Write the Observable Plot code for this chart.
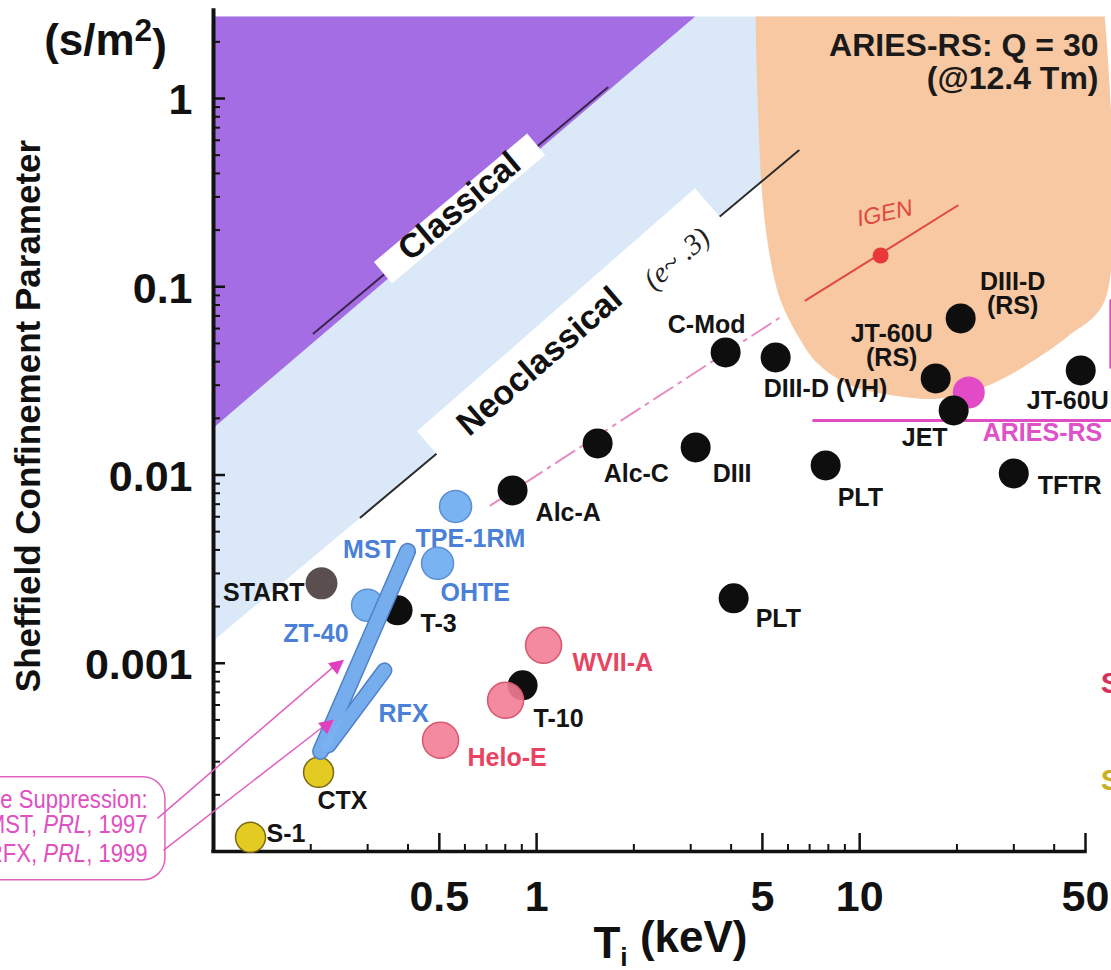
<!DOCTYPE html>
<html><head><meta charset="utf-8">
<script src="https://cdn.jsdelivr.net/npm/d3@7"></script>
<script src="https://cdn.jsdelivr.net/npm/@observablehq/plot@0.6"></script>
<style>
html,body{margin:0;padding:0;background:#fff;overflow:hidden}
#chart svg{display:block}
</style></head><body><div id="chart"></div>
<script>
// ---------------- data (T_i in keV, Sheffield parameter in s/m^2) ----------------
const machines = ["S-1","CTX","START","T-3","ZT-40","OHTE","TPE-1RM","Alc-A","Alc-C","DIII","C-Mod","DIII-D (VH)","PLT","PLT","JT-60U\n(RS)","DIII-D\n(RS)","JET","JT-60U","TFTR","T-10","","WVII-A","Helo-E","ARIES-RS"];
const tiKeV    = [0.1302,0.2114,0.2159,0.3713,0.2998,0.4937,0.5613,0.8427,1.545,3.107,3.847,5.495,7.848,4.073,17.19,20.54,19.54,48.33,29.99,0.9051,0.8018,1.051,0.5044,21.76];
const sheffield= [1.189e-4,2.634e-4,2.657e-3,1.910e-3,2.030e-3,3.393e-3,6.810e-3,8.282e-3,0.01472,0.01401,0.04477,0.04211,0.01125,2.212e-3,0.03258,0.06787,0.02203,0.03593,0.01020,7.630e-4,6.353e-4,1.245e-3,3.897e-4,0.02746];
const family   = ["Spheromak","Spheromak","ST","Tokamak","RFP","RFP","RFP","Tokamak","Tokamak","Tokamak","Tokamak","Tokamak","Tokamak","Tokamak","Tokamak","Tokamak","Tokamak","Tokamak","Tokamak","Tokamak","Stellarator","Stellarator","Stellarator","Reactor"];

// RFP elongated ranges (MST and RFX)
const mstRangeT = [0.2144, 0.3987], mstRangeS = [3.404e-4, 3.929e-3];
const rfxRangeT = [0.2270, 0.3383], rfxRangeS = [3.66e-4, 9.17e-4];
const mstLabelAt = [0.304, 0.00402], rfxLabelAt = [0.3875, 5.35e-4];

// regimes
const classicalEdgeT = [0.1, 3.096], classicalEdgeS = [0.01785, 2.727];
const neoEdgeT = [0.1, 20.25], neoEdgeS = [0.00132, 2.727];
const plotTopS = 2.727;
const ariesRegionT = [4.764,4.833,5.009,5.303,5.694,6.567,7.413,9.379,13.40,17.81,25.44,34.57,44.05,57.36,57.36];
const ariesRegionS = [2.727,0.9759,0.2871,0.1379,0.08457,0.05187,0.03914,0.02990,0.02615,0.02551,0.03028,0.04061,0.05447,0.08457,2.727];
const classicalLineT = [0.2040, 1.659], classicalLineS = [0.05649, 1.144];
const neoLineT = [0.2851, 6.474], neoLineS = [0.005954, 0.5296];
const classicalBoxT = [0.3345, 0.9971], classicalBoxS = [0.1187, 0.5719];
const neoBoxT = [0.468, 3.396], neoBoxS = [0.0142, 0.2773];
const classicalTextAt = [0.5776, 0.2669], neoTextAt = [1.0216, 0.04012], eTextAt = [2.713, 0.1413];
const trendT = [0.7204, 5.613], trendS = [0.0069, 0.0679];
const igenLineT = [6.804, 20.12], igenLineS = [0.0846, 0.2702];
const igenPoint = [11.61, 0.1466], igenTextAt = [11.95, 0.245];
const ariesLineT = [7.203, 60.3], ariesLineS = 0.0195;
const ariesEdgeT = 59.8, ariesEdgeS = [0.0373, 0.0846];

// annotation box + arrows
const noteBoxT = [0.019, 0.0710], noteBoxS = [7.03e-5, 2.48e-4];
const noteLines = ["Mode Suppression:", "MST, PRL, 1997", "RFX, PRL, 1999"];
const noteT = 0.0625, noteS = [1.893e-4, 1.395e-4, 9.78e-5];
const arrowFromT = [0.0671, 0.07002], arrowFromS = [1.50e-4, 1.015e-4];
const arrowToT = [0.2420, 0.2254], arrowToS = [9.99e-4, 4.80e-4];
const legendWords = ["Stellarators", "Spheromaks"], legendT = 55.7, legendS = [7.82e-4, 2.39e-4];

// axes
const xTicksMajor = [0.5, 1, 5, 10, 50];
const xTickLabels = ["0.5", "1", "5", "10", "50"];
const xTicksMinor = [0.2,0.3,0.4,0.6,0.7,0.8,0.9,2,3,4,6,7,8,9,20,30,40];
const yTicksMajor = [1, 0.1, 0.01, 0.001];
const yTickLabels = ["1", "0.1", "0.01", "0.001"];
const yTicksMinor = [];
for (const d of [1e-4, 1e-3, 1e-2, 1e-1, 1]) for (let k = 2; k <= 9; k++) if (d * k <= plotTopS) yTicksMinor.push(d * k);

// ---------------- layout / styles ----------------
const FONT = "'Liberation Sans', Arial, Helvetica, sans-serif";
const W = 1111, H = 970, ML = 213, MR = 26, MT = 16, MB = 119;
const PW = W - ML - MR, PH = H - MT - MB;

const pts = machines.map((m, i) => ({name: m, T: tiKeV[i], S: sheffield[i], fam: family[i]}));
const famStyle = {
  Reactor:     {r: 16, fill: "#e24ac6", stroke: "none"},
  ST:          {r: 16, fill: "#5b4e4e", stroke: "none"},
  Spheromak:   {r: 15, fill: "#e4cb22", stroke: "#7a6a12", strokeWidth: 1.5},
  RFP:         {r: 16, fill: "#7ab3f1", stroke: "#5b8fd4", strokeWidth: 1.5},
  Tokamak:     {r: 15, fill: "#0e0e0e", stroke: "none"},
  Stellarator: {r: 18, fill: "#f27d95", stroke: "#d8566f", strokeWidth: 1.5, fillOpacity: 0.9}
};
const labelColor = {Reactor: "#e050c8", ST: "#141414", Spheromak: "#141414", RFP: "#4b80d8", Tokamak: "#141414", Stellarator: "#e84462"};
const labelLayout = [
  {i: 0, dx: 16, dy: -3, a: "start"}, {i: 1, dx: -1, dy: 29, a: "start"}, {i: 2, dx: -17, dy: 10, a: "end"},
  {i: 3, dx: 23, dy: 14, a: "start"}, {i: 4, dx: -19, dy: 29, a: "end"}, {i: 5, dx: 3, dy: 30, a: "start"},
  {i: 6, dx: -40, dy: 33, a: "start"}, {i: 7, dx: 23, dy: 23, a: "start"}, {i: 8, dx: 6, dy: 31, a: "start"},
  {i: 9, dx: 17, dy: 27, a: "start"}, {i: 10, dx: -19, dy: -27, a: "middle"}, {i: 11, dx: -12, dy: 32, a: "start"},
  {i: 12, dx: 12, dy: 33, a: "start"}, {i: 13, dx: 22, dy: 21, a: "start"}, {i: 14, dx: -44, dy: -32, a: "middle"},
  {i: 15, dx: 52, dy: -24, a: "middle"}, {i: 16, dx: -29, dy: 28, a: "middle"}, {i: 17, dx: 28, dy: 31, a: "end"},
  {i: 18, dx: 24, dy: 13, a: "start"}, {i: 19, dx: 11, dy: 34, a: "start"}, {i: 21, dx: 29, dy: 18, a: "start"},
  {i: 22, dx: 27, dy: 18, a: "start"}, {i: 23, dx: 14, dy: 41, a: "start"}
];

const seg = (T, S) => T.map((t, i) => ({T: t, S: Array.isArray(S) ? S[i] : S}));
const poly = (T, S) => T.map((t, i) => ({T: t, S: S[i]}));
const txt = {fontFamily: FONT, fontWeight: "bold"};

const marks = [
  // regimes
  Plot.line([{T: neoEdgeT[0], S: neoEdgeS[0]}, {T: neoEdgeT[1], S: neoEdgeS[1]}, {T: neoEdgeT[0], S: plotTopS}], {x: "T", y: "S", fill: "#dae8f8", stroke: "none"}),
  Plot.line([{T: classicalEdgeT[0], S: classicalEdgeS[0]}, {T: classicalEdgeT[1], S: classicalEdgeS[1]}, {T: classicalEdgeT[0], S: plotTopS}], {x: "T", y: "S", fill: "#a46de4", stroke: "none"}),
  Plot.line(poly(ariesRegionT, ariesRegionS), {x: "T", y: "S", fill: "#f8c8a2", stroke: "none", curve: "catmull-rom"}),
  Plot.line(seg(classicalLineT, classicalLineS), {x: "T", y: "S", stroke: "#3b2450", strokeWidth: 2}),
  Plot.line(seg(neoLineT, neoLineS), {x: "T", y: "S", stroke: "#2a2a2a", strokeWidth: 2}),
  Plot.line(seg(classicalBoxT, classicalBoxS), {x: "T", y: "S", stroke: "#fff", strokeWidth: 28, strokeLinecap: "butt"}),
  Plot.line(seg(neoBoxT, neoBoxS), {x: "T", y: "S", stroke: "#fff", strokeWidth: 40, strokeLinecap: "butt"}),
  Plot.text(["Classical"], {x: classicalTextAt[0], y: classicalTextAt[1], rotate: -40, fontSize: 34, fill: "#111", ...txt}),
  Plot.text(["Neoclassical"], {x: neoTextAt[0], y: neoTextAt[1], rotate: -41, fontSize: 34, fill: "#111", ...txt}),
  Plot.text(["(e~ .3)"], {x: eTextAt[0], y: eTextAt[1], rotate: -41, fontSize: 29, fill: "#222", fontFamily: "'Liberation Serif', serif", fontStyle: "italic"}),
  // trend + reactor annotations
  Plot.line(seg(trendT, trendS), {x: "T", y: "S", stroke: "#e68cc0", strokeWidth: 2, strokeDasharray: "22 7 3 7"}),
  Plot.line(seg(igenLineT, igenLineS), {x: "T", y: "S", stroke: "#e0483c", strokeWidth: 2}),
  Plot.dot([igenPoint], {x: d => d[0], y: d => d[1], r: 8, fill: "#e8383a"}),
  Plot.text(["IGEN"], {x: igenTextAt[0], y: igenTextAt[1], rotate: -12, fontSize: 23, fill: "#e0483c", fontFamily: "'Liberation Sans', sans-serif", fontStyle: "italic"}),
  Plot.line(seg(ariesLineT, ariesLineS), {x: "T", y: "S", stroke: "#e04cc4", strokeWidth: 3}),
  Plot.line(seg([ariesEdgeT, ariesEdgeT], ariesEdgeS), {x: "T", y: "S", stroke: "#e04cc4", strokeWidth: 2.5}),
  // axes
  Plot.ruleX([0.1], {y1: 1e-4, y2: 3.0, stroke: "#111", strokeWidth: 4}),
  Plot.ruleY([1e-4], {x1: 0.1, x2: 50, stroke: "#111", strokeWidth: 3.5, strokeLinecap: "square"}),
  Plot.ruleX(xTicksMajor, {x: d => d, insetTop: PH - 18, stroke: "#111", strokeWidth: 2.5}),
  Plot.ruleX(xTicksMinor, {x: d => d, insetTop: PH - 7, stroke: "#111", strokeWidth: 2}),
  Plot.ruleY(yTicksMajor, {y: d => d, insetRight: PW - 12, stroke: "#111", strokeWidth: 2.5}),
  Plot.ruleY(yTicksMinor, {y: d => d, insetRight: PW - 7, stroke: "#111", strokeWidth: 2}),
  Plot.text(yTicksMajor, {x: 0.1, y: d => d, text: (d, i) => yTickLabels[i], dx: -21, dy: 2, textAnchor: "end", fontSize: 43, fill: "#111", ...txt}),
  Plot.text(xTicksMajor, {x: d => d, y: 1e-4, text: (d, i) => xTickLabels[i], dy: 46, fontSize: 43, fill: "#111", ...txt}),
  Plot.text(["(s/m2)"], {frameAnchor: "top-left", dx: -108, dy: 24, textAnchor: "middle", lineAnchor: "middle", fontSize: 44, fill: "#111", ...txt}),
  Plot.text(["Sheffield Confinement Parameter"], {frameAnchor: "left", dx: -185, dy: -18, rotate: -90, textAnchor: "middle", lineAnchor: "middle", fontSize: 35, fill: "#111", ...txt}),
  Plot.text(["T_i (keV)"], {frameAnchor: "bottom", dx: 21, dy: 92, textAnchor: "middle", lineAnchor: "middle", fontSize: 44, fill: "#111", ...txt}),
  // points
  ...Object.keys(famStyle).map(f => Plot.dot(pts.filter(p => p.fam === f), {x: "T", y: "S", ...famStyle[f]})),
  // RFP ranges
  Plot.line(seg(rfxRangeT, rfxRangeS), {x: "T", y: "S", stroke: "#4f7fc9", strokeWidth: 16, strokeLinecap: "round"}),
  Plot.line(seg(mstRangeT, mstRangeS), {x: "T", y: "S", stroke: "#4f7fc9", strokeWidth: 17, strokeLinecap: "round"}),
  Plot.line(seg(rfxRangeT, rfxRangeS), {x: "T", y: "S", stroke: "#7ab3f1", strokeWidth: 13, strokeLinecap: "round", strokeOpacity: 0.9}),
  Plot.line(seg(mstRangeT, mstRangeS), {x: "T", y: "S", stroke: "#7ab3f1", strokeWidth: 14, strokeLinecap: "round", strokeOpacity: 0.9}),
  Plot.text(["MST"], {x: mstLabelAt[0], y: mstLabelAt[1], fontSize: 25, fill: "#4b80d8", ...txt}),
  Plot.text(["RFX"], {x: rfxLabelAt[0], y: rfxLabelAt[1], fontSize: 25, fill: "#4b80d8", ...txt}),
  // point labels
  ...labelLayout.map(L => Plot.text([pts[L.i]], {x: "T", y: "S", text: "name", dx: L.dx, dy: L.dy, textAnchor: L.a, fontSize: 25, lineHeight: 0.95, fill: labelColor[pts[L.i].fam], ...txt})),
  // reactor title
  Plot.text(["ARIES-RS: Q = 30\n(@12.4 Tm)"], {frameAnchor: "top-right", dx: 13, dy: 45, textAnchor: "end", lineAnchor: "middle", lineHeight: 1.03, fontSize: 32, fill: "#1a1a1a", ...txt}),
  // note box and arrows
  Plot.rect([0], {x1: noteBoxT[0], x2: noteBoxT[1], y1: noteBoxS[0], y2: noteBoxS[1], rx: 22, fill: "#fff", stroke: "#e060c0", strokeWidth: 1.5}),
  Plot.text(noteLines, {x: noteT, y: (d, i) => noteS[i], text: d => d, textAnchor: "end", fontSize: 26, fill: "#e050c0", fontFamily: "'Liberation Sans Narrow', 'Liberation Sans', sans-serif"}),
  Plot.link([0, 1], {x1: i => arrowFromT[i], y1: i => arrowFromS[i], x2: i => arrowToT[i], y2: i => arrowToS[i], stroke: "#e060c0", strokeWidth: 1.5}),
  Plot.text([0, 1], {x: i => arrowToT[i], y: i => arrowToS[i], text: () => "\u25B6", rotate: -39, fontSize: 19, fill: "#e040c0", fontFamily: "'DejaVu Sans', sans-serif"}),
  // partially visible legend words at right edge
  Plot.text(legendWords, {x: legendT, y: (d, i) => legendS[i], text: d => d, textAnchor: "start", fontSize: 30, fill: (d, i) => i === 0 ? "#d8305a" : "#c8b020", ...txt})
];

const chart = Plot.plot({
  width: W, height: H,
  marginLeft: ML, marginRight: MR, marginTop: MT, marginBottom: MB,
  x: {type: "log", domain: [0.1, 50], axis: null},
  y: {type: "log", domain: [1e-4, plotTopS], axis: null},
  style: {fontFamily: FONT, background: "#fff"},
  marks
});
document.getElementById("chart").append(chart);

// rich text: superscript, subscript, italics, condensed note
const NS = "http://www.w3.org/2000/svg";
function span(t, attrs) { const s = document.createElementNS(NS, "tspan"); s.textContent = t; for (const k in attrs) s.setAttribute(k, attrs[k]); return s; }
function condense(el, k) {
  const x = +el.getAttribute("x") || 0, y = +el.getAttribute("y") || 0, t = el.getAttribute("transform") || "";
  el.setAttribute("transform", `${t} translate(${x},${y}) scale(${k},1) translate(${-x},${-y})`);
}
chart.querySelectorAll("text").forEach(el => {
  const c = el.textContent;
  if (c === "(s/m2)") { el.textContent = "(s/m"; el.append(span("2", {dy: "-0.42em", "font-size": "0.72em"}), span(")", {dy: "0.42em"})); }
  else if (c === "T_i (keV)") { el.textContent = "T"; el.append(span("i", {dy: "0.3em", "font-size": "0.6em"}), span(" (keV)", {dy: "-0.3em"})); }
  else if (c.includes("PRL")) { const [a, b] = c.split("PRL"); el.textContent = a; el.append(span("PRL", {"font-style": "italic"}), span(b, {})); condense(el, 0.85); }
  else if (c === "Mode Suppression:") condense(el, 0.85);
  else if (c === "Stellarators") el.setAttribute("fill", "#d8305a");
  else if (c === "Spheromaks") el.setAttribute("fill", "#c8b020");
});
</script></body></html>
